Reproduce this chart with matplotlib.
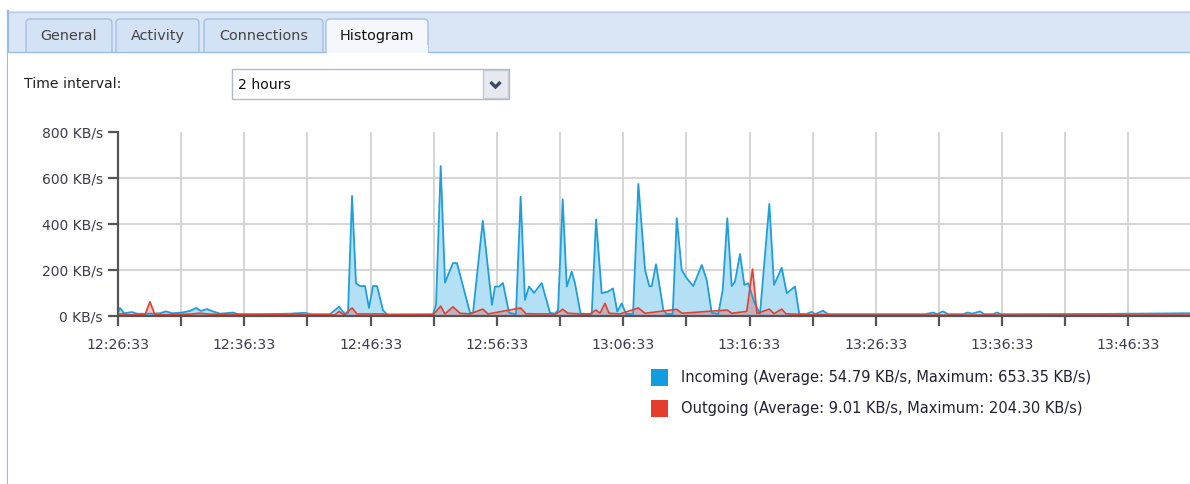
import matplotlib
matplotlib.use("Agg")
import matplotlib.pyplot as plt
from matplotlib.patches import Rectangle, FancyBboxPatch

plt.rcParams['font.family'] = ['DejaVu Sans']

# ---- data: minutes since 12:26:33 and transfer rates in KB/s ----
in_minutes = [0.00, 0.16, 0.48, 1.11, 1.50, 2.53, 3.33, 3.80, 4.28, 5.07, 5.70, 6.18,
              6.57, 7.05, 7.52, 8.08, 9.11, 9.50, 11.24, 13.62, 14.81, 15.20, 16.79,
              17.50, 17.97, 18.21, 18.53, 18.84, 19.16, 19.56, 19.87, 20.19, 20.51,
              20.98, 21.30, 24.94, 25.18, 25.55, 25.89, 26.52, 26.84, 27.87, 28.11,
              28.88, 29.61, 29.85, 30.17, 30.48, 30.96, 31.51, 31.88, 32.22, 32.54,
              32.94, 33.55, 34.20, 34.60, 34.84, 35.21, 35.53, 35.92, 36.18, 36.63,
              37.51, 37.85, 38.30, 38.80, 39.19, 39.53, 39.88, 40.22, 40.78, 41.20,
              41.73, 42.07, 42.26, 42.60, 43.18, 43.44, 43.92, 44.24, 44.63, 45.03,
              45.55, 46.22, 46.61, 47.01, 47.53, 47.88, 48.24, 48.59, 48.85, 49.25,
              49.59, 49.91, 50.36, 50.83, 51.57, 51.94, 52.55, 52.95, 53.60, 53.94,
              54.47, 54.92, 55.19, 55.82, 56.22, 63.90, 64.53, 64.85, 65.32, 65.72,
              66.90, 67.30, 67.62, 68.25, 68.57, 69.28, 69.60, 69.91, 77.75, 84.88]
incoming = [15, 35, 12, 17, 10, 10, 12, 20, 12, 15, 22, 35,
            22, 30, 20, 10, 15, 8, 8, 10, 14, 8, 8,
            40, 8, 12, 522, 143, 130, 130, 35, 130, 130,
            25, 7, 8, 48, 652, 145, 230, 230, 14, 14,
            414, 48, 128, 128, 143, 14, 8, 519, 70, 128,
            101, 143, 14, 10, 26, 507, 128, 193, 143, 9,
            9, 420, 99, 106, 120, 19, 55, 9, 9, 574,
            200, 130, 130, 225, 26, 9, 9, 425, 200, 164,
            130, 222, 157, 14, 9, 113, 425, 130, 149, 270,
            135, 142, 62, 9, 487, 135, 210, 99, 128, 9,
            8, 18, 8, 23, 8, 8, 15, 8, 20, 8,
            8, 15, 10, 20, 8, 8, 15, 8, 9, 12]

out_minutes = [0.00, 0.32, 0.79, 2.14, 2.53, 2.93, 5.70, 6.49, 7.28, 13.62, 14.01,
               14.41, 17.18, 17.50, 17.89, 18.53, 18.92, 20.98, 21.30, 24.94, 25.55,
               25.89, 26.52, 27.08, 27.87, 28.88, 29.30, 31.88, 32.30, 33.41, 34.68,
               35.21, 35.63, 36.58, 37.37, 37.85, 38.16, 38.56, 38.88, 39.75, 41.20,
               41.73, 44.24, 44.66, 48.24, 48.59, 49.78, 50.24, 50.59, 51.57, 51.94,
               52.55, 52.87, 54.00, 54.79, 55.82, 56.37, 84.88]
outgoing = [5, 10, 5, 5, 62, 5, 8, 12, 8, 5, 10,
            5, 5, 20, 5, 35, 9, 9, 5, 5, 43,
            9, 40, 12, 9, 30, 9, 35, 10, 9, 9,
            29, 12, 9, 9, 26, 12, 55, 12, 9, 35,
            12, 29, 12, 26, 12, 20, 204, 11, 30, 10,
            30, 10, 7, 5, 7, 4, 4]

y_ticks = [0, 200, 400, 600, 800]
y_labels = ["0 KB/s", "200 KB/s", "400 KB/s", "600 KB/s", "800 KB/s"]
x_ticks = list(range(0, 85, 5))
x_labels = ["12:26:33", "12:36:33", "12:46:33", "12:56:33", "13:06:33",
            "13:16:33", "13:26:33", "13:36:33", "13:46:33"]

legend_in = "Incoming (Average: 54.79 KB/s, Maximum: 653.35 KB/s)"
legend_out = "Outgoing (Average: 9.01 KB/s, Maximum: 204.30 KB/s)"

tab_names = ["General", "Activity", "Connections", "Histogram"]
interval_label = "Time interval:"
interval_value = "2 hours"

# ---- figure ----
W, H = 1190, 484
fig = plt.figure(figsize=(W / 100, H / 100), dpi=100)
fig.patch.set_facecolor("white")

# window chrome drawn in pixel coordinates
ui = fig.add_axes([0, 0, 1, 1])
ui.set_xlim(0, W)
ui.set_ylim(H, 0)
ui.axis("off")

border = "#99bbe8"
ui.add_patch(Rectangle((7, 11), W - 7, 41, facecolor="#dae6f6", edgecolor="none"))
ui.plot([7, W], [11.5, 11.5], color="#b8cfee", lw=1)
ui.plot([7.5, 7.5], [11, H], color=border, lw=1.6)

tab_spans = [(26, 112), (116, 199), (204, 323), (326, 428)]
for i, (name, (x0, x1)) in enumerate(zip(tab_names, tab_spans)):
    active = i == len(tab_names) - 1
    face = "#f4f8fd" if active else "#d3e2f5"
    ui.add_patch(FancyBboxPatch((x0, 19), x1 - x0, 40,
                                boxstyle="round,pad=0,rounding_size=4",
                                facecolor=face, edgecolor="#a4c0e4", lw=1, zorder=2))
    ui.text((x0 + x1) / 2, 36, name, ha="center", va="center", fontsize=10.4,
            color="#111111" if active else "#444444", zorder=4)

# content area below the strip
ui.add_patch(Rectangle((8.3, 52), W, H, facecolor="white", edgecolor="none", zorder=3))
ui.plot([8, 326], [51.5, 51.5], color=border, lw=1, zorder=3)
ui.plot([428, W], [51.5, 51.5], color=border, lw=1, zorder=3)
ui.add_patch(Rectangle((326.5, 45), 101, 8, facecolor="#f4f8fd", edgecolor="none", zorder=3))

ui.text(24, 84, interval_label, ha="left", va="center", fontsize=10.1, color="#222222", zorder=4)
ui.add_patch(Rectangle((232, 69), 277, 30, facecolor="white", edgecolor="#b5b8c8", lw=1, zorder=4))
ui.add_patch(Rectangle((483, 70), 25, 28, facecolor="#e6e9f0", edgecolor="#c3c7d2", lw=1, zorder=4))
ui.plot([490.5, 495.5, 500.5], [82, 87, 82], color="#3d4a66", lw=2.4, zorder=5,
        solid_capstyle="butt", solid_joinstyle="miter")
ui.text(238, 85, interval_value, ha="left", va="center", fontsize=10.1, color="#111111", zorder=5)

# legend
ui.add_patch(Rectangle((651, 369), 17, 17, facecolor="#129ddf", edgecolor="none", zorder=4))
ui.add_patch(Rectangle((651, 400), 17, 17, facecolor="#e63c2b", edgecolor="none", zorder=4))
ui.text(681, 377.5, legend_in, ha="left", va="center", fontsize=10.5, color="#222233", zorder=4)
ui.text(681, 408.5, legend_out, ha="left", va="center", fontsize=10.5, color="#222233", zorder=4)

# ---- chart ----
x_left, x_right = 118, W
y_top, y_bottom = 132, 316
ax = fig.add_axes([x_left / W, 1 - y_bottom / H, (x_right - x_left) / W, (y_bottom - y_top) / H])
ax.set_facecolor("none")
ax.set_zorder(5)

px_per_min = 12.63
ax.set_xlim(0, (x_right - x_left) / px_per_min)
ax.set_ylim(0, 800)

for t in x_ticks[1:]:
    ax.axvline(t, color="#d2d2d2", lw=1.3, zorder=0)
for v in y_ticks[1:-1]:
    ax.axhline(v, color="#d2d2d2", lw=1.3, zorder=0)

ax.fill_between(in_minutes, incoming, 0, color="#b3e0f5", lw=0, zorder=1)
ax.plot(in_minutes, incoming, color="#1e9fdc", lw=1.3, zorder=3)
ax.fill_between(out_minutes, outgoing, 0, color="#d9534f", alpha=0.33, lw=0, zorder=2)
ax.plot(out_minutes, outgoing, color="#e5402f", lw=1.2, zorder=4)

for s in ["top", "right"]:
    ax.spines[s].set_visible(False)
for s in ["left", "bottom"]:
    ax.spines[s].set_color("#555555")
    ax.spines[s].set_linewidth(1.6)
    ax.spines[s].set_zorder(6)

ax.set_yticks(y_ticks)
ax.set_yticklabels(y_labels)
ax.set_xticks(x_ticks)
ax.set_xticklabels([x_labels[i // 2] if i % 2 == 0 else "" for i in range(len(x_ticks))])
ax.tick_params(axis="both", direction="out", length=7, width=1.6, color="#555555",
               labelsize=10.0, labelcolor="#3c3c4c")
ax.tick_params(axis="y", pad=4)
ax.tick_params(axis="x", pad=9)
for lbl in ax.get_xticklabels():
    lbl.set_fontsize(10.2)

fig.savefig("out.png", dpi=100, facecolor="white")
